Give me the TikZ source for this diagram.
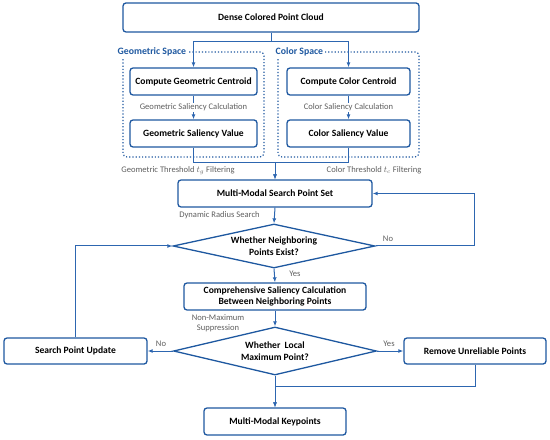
\documentclass[tikz,border=0pt]{standalone}
\usepackage{fontspec}
\setmainfont{Carlito}
\usetikzlibrary{shapes.geometric,arrows.meta,calc}
\definecolor{boxblue}{RGB}{30,88,160}
\definecolor{lineblue}{RGB}{45,102,176}
\definecolor{labgray}{RGB}{95,95,95}
\begin{document}
\begin{tikzpicture}[x=1bp,y=-1bp,
  box/.style={draw=boxblue,line width=1.3bp,rounded corners=3bp,fill=white,
    font=\fontsize{9.6}{11}\selectfont\bfseries,align=center,inner sep=0pt},
  dia/.style={draw=boxblue,line width=1.3bp,diamond,aspect=4.6,inner sep=0pt,fill=white,
    font=\fontsize{9.6}{12}\selectfont\bfseries,align=center},
  arr/.style={draw=lineblue,line width=1bp,-{Latex[length=5bp,width=4bp]}},
  ln/.style={draw=lineblue,line width=1bp},
  lab/.style={font=\fontsize{8.6}{10.5}\selectfont,text=labgray,inner sep=1bp},
  spacebox/.style={draw=boxblue,line width=1.2bp,dotted,rounded corners=4bp},
  spacelab/.style={font=\fontsize{9.8}{11}\selectfont\bfseries,text=boxblue,fill=white,inner sep=1.5bp,anchor=west}
]
\useasboundingbox (0,0) rectangle (550,440);
% dotted regions
\draw[spacebox] (123,52) rectangle (264,157);
\draw[spacebox] (278,52) rectangle (419,157);
\node[spacelab] (gsl) at (116,52) {Geometric Space};
\node[spacelab] (csl) at (274,52) {Color Space};
% nodes
\node[box,minimum width=296bp,minimum height=29bp] (top) at (271,17.5) {Dense Colored Point Cloud};
\node[box,minimum width=127bp,minimum height=27bp] (gc) at (193.5,81.5) {Compute Geometric Centroid};
\node[box,minimum width=127bp,minimum height=27bp] (gs) at (193.5,133.5) {Geometric Saliency Value};
\node[box,minimum width=123bp,minimum height=27bp] (cc) at (348.5,81.5) {Compute Color Centroid};
\node[box,minimum width=123bp,minimum height=27bp] (cs) at (348.5,133.5) {Color Saliency Value};
\node[box,minimum width=194bp,minimum height=27bp] (mm) at (275,193.5) {Multi-Modal Search Point Set};
\node[dia,minimum width=202bp,minimum height=44bp] (d1) at (274,246) {Whether Neighboring\\Points Exist?};
\node[box,minimum width=182bp,minimum height=27bp] (cmp) at (275,296.5) {Comprehensive Saliency Calculation\\Between Neighboring Points};
\node[dia,minimum width=203bp,minimum height=48bp] (d2) at (275,351) {Whether~~Local\\Maximum Point?};
\node[box,minimum width=143bp,minimum height=26bp] (spu) at (75.5,351) {Search Point Update};
\node[box,minimum width=142bp,minimum height=26bp] (rup) at (475,351) {Remove Unreliable Points};
\node[box,minimum width=142bp,minimum height=27bp] (kp) at (275,421.5) {Multi-Modal Keypoints};
% connectors
\coordinate (s1) at (271,42);
\draw[ln] (top.south) -- (s1);
\draw[arr] (s1) -| (gc.north);
\draw[arr] (s1) -| (cc.north);
\draw[arr] (gc.south) -- (gs.north) node[lab,fill=white,midway] (l1) {Geometric Saliency Calculation};
\draw[arr] (cc.south) -- (cs.north) node[lab,fill=white,midway] (l2) {Color Saliency Calculation};
\coordinate (j1) at (193.5,163);
\coordinate (j2) at (348.5,163);
\draw[arr] (gs.south) -- (j1) -| (mm.north);
\draw[arr] (cs.south) -- (j2) -| (mm.north);
\node[lab] (l3) at (178,170.5) {Geometric Threshold $t_g$ Filtering};
\node[lab] (l4) at (374,170.5) {Color Threshold $t_c$ Filtering};
\draw[arr] (mm.south) -- (d1.north);
\node[lab] (l5) at (219.5,215) {Dynamic Radius Search};
\coordinate (r1) at (474,246);
\draw[arr] (d1.east) -- (r1) |- (mm.east);
\node[lab] (l6) at (388,239) {No};
\draw[arr] (d1.south) -- (cmp.north);
\node[lab] (l7) at (295,274) {Yes};
\draw[arr] (cmp.south) -- (d2.north);
\node[lab,align=center] (l8) at (218,323.5) {Non-Maximum\\Suppression};
\draw[arr] (d2.west) -- (spu.east);
\node[lab] (l9) at (161,344) {No};
\draw[arr] (d2.east) -- (rup.west);
\node[lab] (l10) at (389,344) {Yes};
\coordinate (u1) at (75.5,246);
\draw[arr] (spu.north) -- (u1) -- (d1.west);
\coordinate (k1) at (475,386);
\draw[arr] (rup.south) -- (k1) -| (kp.north);
\draw[arr] (d2.south) -- (kp.north);
\end{tikzpicture}
\end{document}
